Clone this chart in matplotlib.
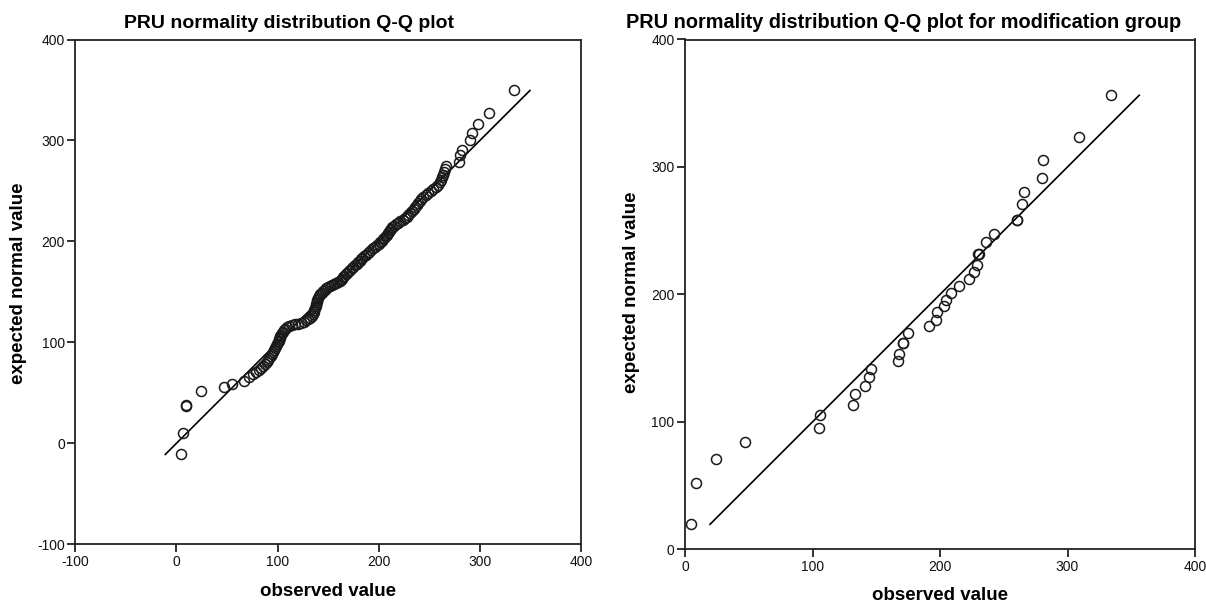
import matplotlib
matplotlib.use("Agg")
import matplotlib.pyplot as plt

plt.rcParams['font.family'] = ['Liberation Sans', 'DejaVu Sans']
plt.rcParams['axes.unicode_minus'] = False

# ---- Left panel data: PRU (all) ----
left_observed = [
    5, 6, 9, 9.5, 24, 47, 55, 67, 72,
    76, 79, 81.5, 83.5, 86, 88, 89.5, 90.5, 91.5, 93, 94, 95, 96.5, 97.5, 98.5, 99,
    100, 101, 101.5, 102, 102.5, 103.5, 104.5, 105, 106, 107, 109, 111, 114, 117,
    120, 123, 126, 128.5, 130.5, 132.5, 134, 135.5, 136, 136.5, 137, 137.5, 138,
    138.5, 139, 139.5, 140.5, 142, 143.5, 145, 146.5, 148, 150, 152, 154, 156, 158,
    160, 161.5, 163, 164, 165, 166, 167.5, 169, 170.5, 172, 173.5, 175, 177, 178.5,
    180, 181.5, 182.5, 183.5, 185, 187, 189, 190.5, 192, 194, 196, 198.5, 200,
    201.5, 203, 204.5, 205.5, 207, 208, 209.5, 210.5, 211.5, 212.5, 213.5, 215,
    217, 219, 221.5, 224, 226, 227.5, 229, 231, 233, 234.5, 236, 237.5, 239, 240.5,
    242, 244, 246.5, 249, 251.5, 254, 257, 259, 260.5, 262, 263, 264, 264.5, 265.5,
    267, 279, 280, 282.5, 290.5, 292.5, 298, 309, 334,
]
left_expected = [
    -11, 10.5, 37, 38, 51.5, 55.5, 59, 62, 65.5,
    68.5, 70.5, 72.5, 74.5, 76.5, 78.5, 80.5, 82.5, 84.5, 86.5, 88.5, 90.5, 92.5,
    94.5, 96.5, 98.5, 100, 101.5, 103, 104.5, 106, 107.5, 109, 110.5, 112, 113.5,
    115, 116.5, 117.5, 118.2, 118.7, 119.5, 120.5, 121.7, 123, 124.5, 126, 128,
    130, 132, 134, 136, 138, 140, 142, 144, 146, 147.5, 149, 150.5, 152, 153.5,
    154.5, 155.5, 156.5, 157.5, 158.5, 159.5, 160.5, 161.5, 163, 164.5, 166, 167.5,
    169, 170.5, 172, 173.5, 175, 176.5, 178, 179.5, 181, 182.5, 184, 185.5, 187,
    188.5, 190, 191.5, 193, 194.5, 196, 197.5, 199, 200.5, 202, 203.5, 205, 206.5,
    208, 209.5, 211, 212.5, 214, 215.5, 217, 218.5, 220, 221.5, 223, 224.5, 226,
    228, 230, 232, 234, 236, 238, 240, 242, 244, 246, 248, 250, 252, 254, 256,
    258.5, 261, 263.5, 266, 269, 272, 275, 279, 285.5, 290.5, 300.5, 307.5, 316,
    327.5, 349.5,
]

# ---- Right panel data: modification group ----
right_observed = [
    5, 9, 24, 47, 105, 106, 132, 133, 141, 144, 146, 167, 168, 171, 171.3, 175,
    191, 197, 198, 203, 205, 209, 215, 223, 227, 229, 230, 230.3, 236, 242, 260,
    260.3, 264, 266, 280, 281, 309, 334,
]
right_expected = [
    19.6, 52, 70.7, 84.3, 95.5, 105.2, 113.6, 121.5, 128.5, 135, 141.4, 147.6,
    153.1, 161.5, 161.5, 170, 175.2, 180.2, 185.8, 190.6, 195.5, 201.3, 206.6,
    211.8, 217.3, 222.8, 231.7, 231.7, 240.9, 247.4, 258.4, 258.4, 270.7, 280.6,
    291.7, 305.3, 323.7, 356.3,
]

left_ticks = [-100, 0, 100, 200, 300, 400]
right_ticks = [0, 100, 200, 300, 400]

titles = ["PRU normality distribution Q-Q plot",
          "PRU normality distribution Q-Q plot for modification group"]
xlabel = "observed value"
ylabel = "expected normal value"

W, H = 1206, 604
fig = plt.figure(figsize=(W / 100, H / 100), dpi=100)

def px_axes(x0, x1, ytop, ybot):
    return fig.add_axes([x0 / W, (H - ybot) / H, (x1 - x0) / W, (ybot - ytop) / H])

axL = px_axes(75.3, 581, 39.5, 544.3)
axR = px_axes(685, 1195, 39.5, 549.3)

def style(ax, ticks):
    ax.set_xlim(ticks[0], ticks[-1])
    ax.set_ylim(ticks[0], ticks[-1])
    ax.set_xticks(ticks)
    ax.set_yticks(ticks)
    for s in ax.spines.values():
        s.set_linewidth(1.3)
        s.set_color('#222222')
    ax.tick_params(direction='out', length=6, width=1.3, color='#222222',
                   labelsize=10, pad=1.5, labelcolor='#111111')

def draw(ax, obs, exp):
    lo, hi = min(exp), max(exp)
    ax.plot([lo, hi], [lo, hi], color='black', lw=1.2, zorder=2)
    ax.plot(obs, exp, linestyle='none', marker='o', markersize=7.2,
            markerfacecolor='none', markeredgecolor='#1a1a1a',
            markeredgewidth=1.1, zorder=3)

style(axL, left_ticks)
style(axR, right_ticks)
draw(axL, left_observed, left_expected)
draw(axR, right_observed, right_expected)

# titles and labels placed in figure pixels
fig.text(289 / W, 1 - 23 / H, titles[0], ha='center', va='center',
         fontsize=14, fontweight='bold')
fig.text(904 / W, 1 - 22 / H, titles[1], ha='center', va='center',
         fontsize=14.3, fontweight='bold')
for xc, yc in [(328, 592), (940, 596)]:
    fig.text(xc / W, 1 - yc / H, xlabel, ha='center', va='center',
             fontsize=13.5, fontweight='bold')
for xc, yc in [(19, 283), (632, 292)]:
    fig.text(xc / W, 1 - yc / H, ylabel, ha='center', va='center',
             fontsize=13.5, fontweight='bold', rotation=90)

fig.savefig("out.png", dpi=100)
